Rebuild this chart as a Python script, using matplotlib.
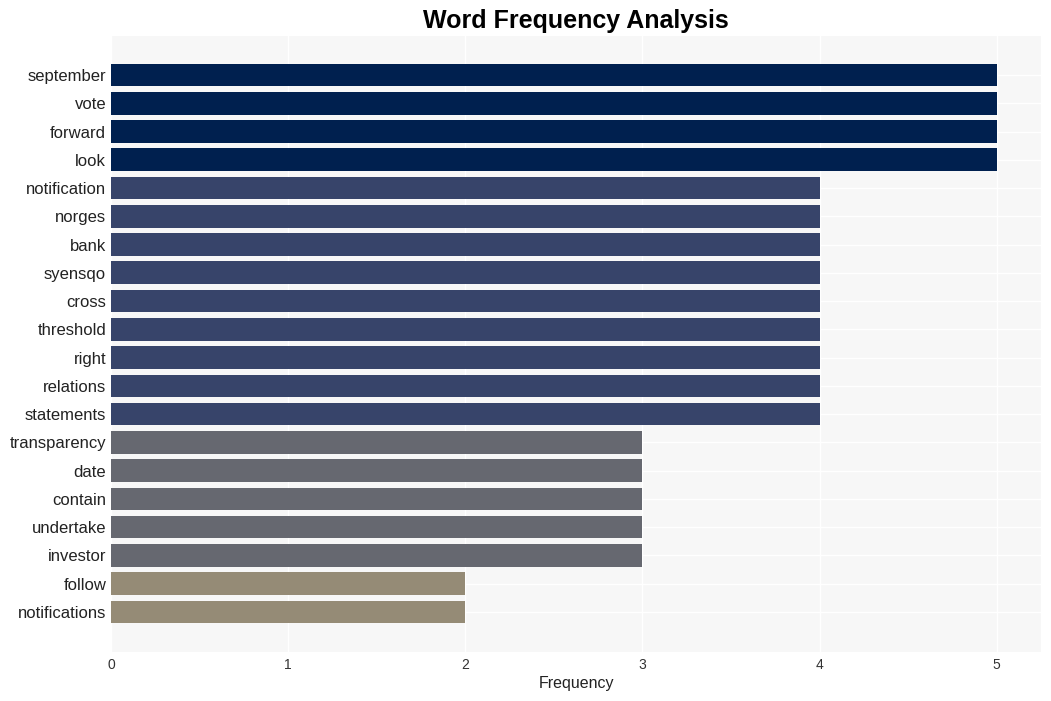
import matplotlib.pyplot as plt

plt.rcParams["font.family"] = ["Liberation Sans", "DejaVu Sans"]

# Data
words = ["september", "vote", "forward", "look", "notification", "norges", "bank",
         "syensqo", "cross", "threshold", "right", "relations", "statements",
         "transparency", "date", "contain", "undertake", "investor", "follow",
         "notifications"]
counts = [5, 5, 5, 5, 4, 4, 4, 4, 4, 4, 4, 4, 4, 3, 3, 3, 3, 3, 2, 2]
colors_by_count = {5: "#00204f", 4: "#37446a", 3: "#666870", 2: "#958b76"}

fig = plt.figure(figsize=(10.51, 7.01), dpi=100)
ax = fig.add_axes([111 / 1051, 1 - 652 / 701, 930 / 1051, 616 / 701])
ax.set_facecolor("#f7f7f7")

bar_colors = [colors_by_count[c] for c in counts]
ax.barh(range(len(words)), counts, height=0.8, color=bar_colors, zorder=2)

ax.set_yticks(range(len(words)))
ax.set_yticklabels(words, fontsize=12, color="#222222")
ax.set_ylim(len(words) - 1 + 1.42, -1.38)
ax.set_xlim(0, 5.25)
ax.set_xticks([0, 1, 2, 3, 4, 5])
ax.tick_params(axis="x", labelsize=10, colors="#333333", length=0, pad=4)
ax.tick_params(axis="y", length=0, pad=3.5)

ax.grid(True, color="white", linewidth=1, zorder=0)
ax.set_axisbelow(True)
for s in ax.spines.values():
    s.set_visible(False)

ax.set_xlabel("Frequency", fontsize=11.5, color="#222222", labelpad=3)
ax.set_title("Word Frequency Analysis", fontsize=18, fontweight="bold", pad=5.5)

fig.savefig("out.png", dpi=100)
